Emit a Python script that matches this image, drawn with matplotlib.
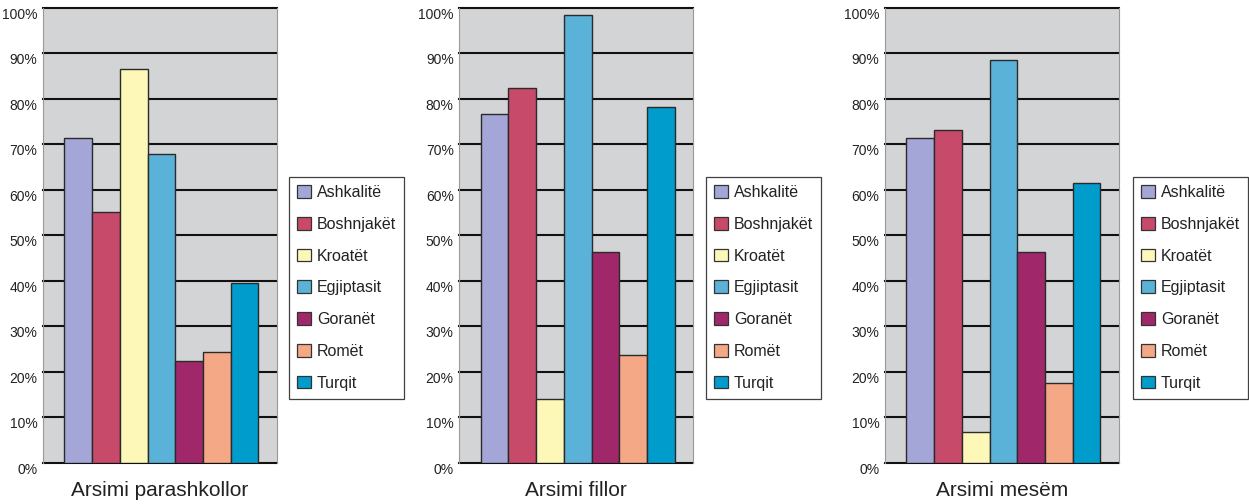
import matplotlib
matplotlib.use("Agg")
import matplotlib.pyplot as plt
from matplotlib import font_manager
from matplotlib.ticker import FixedLocator, FuncFormatter

# Ethnic groups and their shares (%) per education level
groups = ["Ashkalitë", "Boshnjakët", "Kroatët", "Egjiptasit", "Goranët", "Romët", "Turqit"]
colors = ["#a3a6d6", "#c84a6a", "#fdf8b8", "#5ab2d8", "#a0286a", "#f5a885", "#009ccc"]

levels = ["Arsimi parashkollor", "Arsimi fillor", "Arsimi mesëm"]
preschool = [71.4, 55.0, 86.5, 67.8, 22.4, 24.3, 39.4]
primary = [76.6, 82.3, 14.1, 98.4, 46.2, 23.6, 78.2]
secondary = [71.3, 73.0, 6.8, 88.4, 46.2, 17.4, 61.5]
series = [preschool, primary, secondary]

yticks = list(range(0, 101, 10))

available = {f.name for f in font_manager.fontManager.ttflist}
narrow = "Liberation Sans Narrow" if "Liberation Sans Narrow" in available else "Liberation Sans"
regular = "Liberation Sans"
tick_size = 12 if narrow != regular else 10
leg_size = 12.5 if narrow != regular else 11.5

fig = plt.figure(figsize=(12.49, 5.04), dpi=100)

ax_lefts = [43, 459.3, 885]
ax_width = 234
legend_lefts = [289, 706, 1133]
W, H = 1249, 504
y_top, y_bot = 7.5, 462.7

for i, (title, vals) in enumerate(zip(levels, series)):
    ax = fig.add_axes([ax_lefts[i] / W, 1 - y_bot / H, ax_width / W, (y_bot - y_top) / H])
    ax.set_facecolor("#d3d4d6")
    x = list(range(len(groups)))
    ax.bar(x, vals, width=1.0, color=colors, edgecolor="#2a2a2a",
           linewidth=1.0, zorder=3)
    ax.set_xlim(-1.27, 7.17)
    ax.set_ylim(0, 100)
    ax.yaxis.set_major_locator(FixedLocator(yticks))
    ax.yaxis.set_major_formatter(FuncFormatter(lambda v, p: f"{int(v)}%"))
    ax.set_xticks([])
    for y in yticks:
        ax.axhline(y, color="#111111", linewidth=1.5, zorder=2, clip_on=False)
    ax.tick_params(axis="y", length=0, pad=4, labelsize=tick_size)
    for lab in ax.get_yticklabels():
        lab.set_fontfamily(narrow)
        lab.set_verticalalignment("top")
        lab.set_color("#222222")
    for side in ["top", "bottom"]:
        ax.spines[side].set_visible(False)
    for side in ["left", "right"]:
        ax.spines[side].set_color("#999999")
        ax.spines[side].set_linewidth(0.8)
    ax.set_xlabel(title, fontsize=15, fontfamily=regular, color="#222222", labelpad=13)

    handles = [plt.Rectangle((0, 0), 1, 1, facecolor=c, edgecolor="#333333", linewidth=0.9)
               for c in colors]
    leg = fig.legend(handles, groups, loc="upper left",
                     bbox_to_anchor=(legend_lefts[i] / W, 1 - 177 / H),
                     bbox_transform=fig.transFigure, borderaxespad=0,
                     frameon=True, fancybox=False, edgecolor="#111111",
                     prop={"family": narrow, "size": leg_size},
                     handlelength=0.85, handleheight=0.85, handletextpad=0.4,
                     labelspacing=1.05, borderpad=0.5)
    leg.get_frame().set_linewidth(0.9)
    for t in leg.get_texts():
        t.set_color("#222222")

fig.savefig("out.png", dpi=100)
